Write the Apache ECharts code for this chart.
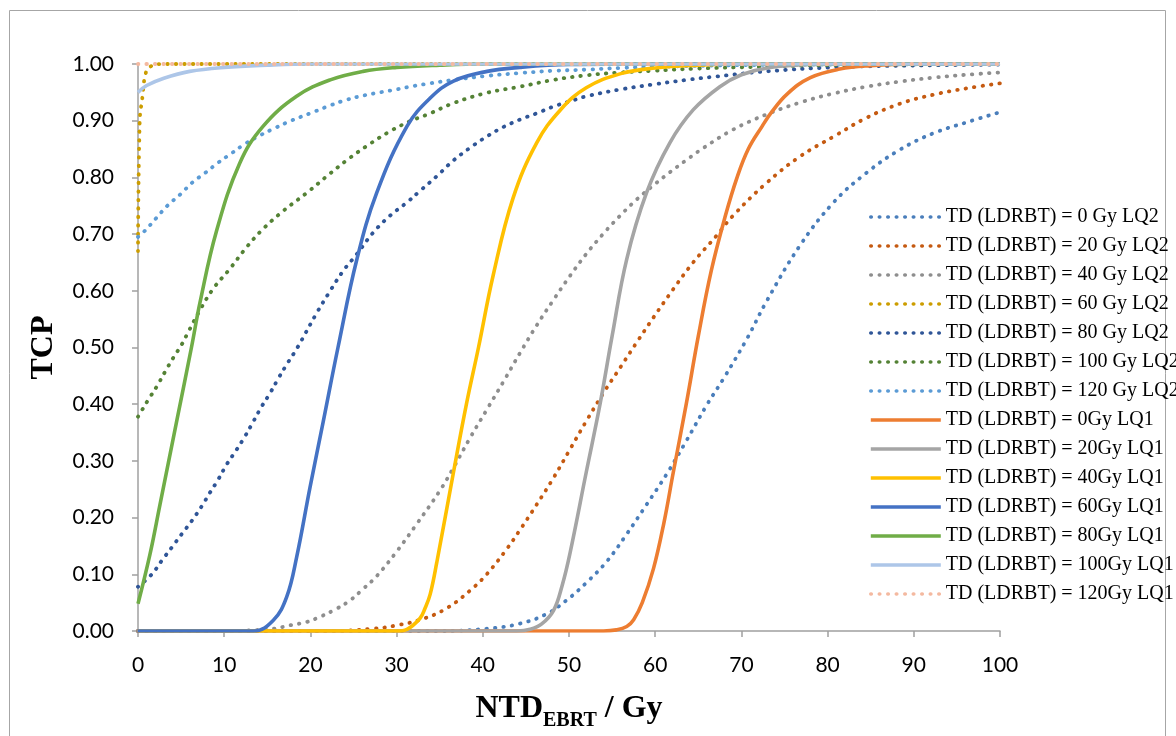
<!DOCTYPE html>
<html>
<head>
<meta charset="utf-8">
<script src="https://cdn.jsdelivr.net/npm/echarts@6/dist/echarts.min.js"></script>
<style>
  html, body { margin: 0; padding: 0; background: #fff; }
  #main { width: 1176px; height: 736px; }
</style>
</head>
<body>
<div id="main"></div>
<script>
// x ticks and y ticks
const xTicks = [0, 10, 20, 30, 40, 50, 60, 70, 80, 90, 100];
const yTicks = [0, 0.1, 0.2, 0.3, 0.4, 0.5, 0.6, 0.7, 0.8, 0.9, 1.0];

// LQ2 curves (dotted), [NTD_EBRT, TCP]
const lq2_0 = [[0,0],[35,0],[40.5,0.004],[44.3,0.013],[47.4,0.030],[49.7,0.054],[52,0.085],[54.4,0.123],[56.7,0.171],[59,0.223],[61.3,0.276],[63.6,0.335],[66,0.399],[68,0.447],[70.7,0.517],[72.9,0.581],[76.8,0.68],[80.7,0.756],[84.5,0.808],[88.4,0.849],[92.3,0.878],[96.1,0.897],[100,0.915]];
const lq2_20 = [[0,0],[22,0],[27.3,0.004],[30,0.010],[33,0.021],[35.8,0.040],[38.5,0.071],[40.45,0.10],[42.8,0.145],[44.3,0.178],[46.25,0.223],[48.2,0.27],[50.1,0.32],[52,0.37],[54,0.42],[56,0.466],[57.9,0.51],[59.8,0.553],[62.1,0.603],[64.4,0.65],[67.1,0.697],[69,0.732],[72.9,0.79],[76.8,0.837],[80.7,0.872],[84.5,0.905],[88.4,0.93],[92.3,0.946],[96.1,0.957],[100,0.966]];
const lq2_40 = [[0,0],[10,0],[15.7,0.004],[17.6,0.01],[19.6,0.016],[21.1,0.025],[23,0.039],[24.6,0.054],[26.1,0.074],[27.7,0.097],[30,0.14],[32.3,0.188],[35,0.247],[36.6,0.288],[38.5,0.34],[40.45,0.39],[42.4,0.44],[44.3,0.49],[46.25,0.539],[48.2,0.584],[50.1,0.626],[52,0.665],[54,0.701],[55.9,0.732],[57.85,0.761],[59.8,0.786],[61.7,0.809],[63.65,0.831],[65.6,0.852],[69,0.884],[72.9,0.911],[76.8,0.932],[80.7,0.948],[84.5,0.96],[88.4,0.969],[92.3,0.976],[96.1,0.981],[100,0.985]];
const lq2_60 = [[0,0.67],[0.2,0.9],[0.5,0.94],[0.9,0.984],[1.5,0.996],[3,1],[100,1]];
const lq2_80 = [[0,0.078],[1.6,0.10],[2.75,0.124],[3.9,0.147],[5.07,0.171],[6.23,0.194],[7.39,0.22],[8.35,0.244],[9.3,0.267],[10.3,0.294],[11.45,0.32],[12.4,0.343],[13.4,0.37],[14.35,0.396],[15.3,0.419],[16.3,0.446],[17.25,0.47],[18.5,0.50],[20.7,0.56],[22.3,0.60],[23.8,0.635],[25.4,0.665],[27.3,0.703],[29.2,0.732],[31.2,0.756],[32.7,0.776],[34.65,0.802],[36.6,0.83],[38.5,0.852],[40.45,0.872],[42.4,0.889],[44.3,0.902],[46.25,0.913],[48.2,0.925],[50.1,0.934],[52,0.943],[55.9,0.955],[59.8,0.964],[63.65,0.972],[67.1,0.978],[72.9,0.987],[80.7,0.994],[88.4,0.997],[100,0.999]];
const lq2_100 = [[0,0.378],[0.6,0.393],[1.2,0.408],[2.17,0.431],[3.13,0.457],[4.1,0.482],[5.14,0.507],[5.65,0.522],[7.19,0.566],[8.74,0.604],[10.67,0.639],[12.6,0.677],[14.5,0.709],[16.86,0.741],[19.6,0.773],[21.9,0.802],[24.2,0.83],[26.5,0.855],[29.2,0.881],[31.55,0.899],[33.9,0.913],[36.6,0.931],[40.45,0.949],[44.3,0.96],[48.2,0.972],[52,0.98],[55.9,0.985],[59.8,0.988],[65,0.992],[72,0.995],[80,0.998],[90,0.999],[100,1]];
const lq2_120 = [[0,0.695],[0.8,0.706],[2.1,0.728],[3.4,0.75],[4.9,0.77],[6.3,0.791],[7.8,0.808],[9.3,0.826],[10.9,0.843],[12.4,0.859],[14.15,0.874],[15.9,0.887],[17.6,0.899],[20.3,0.915],[22.3,0.927],[24,0.936],[25.75,0.943],[27.7,0.949],[29.6,0.954],[31.55,0.96],[33.5,0.965],[36.6,0.972],[40.45,0.979],[44.3,0.984],[48.2,0.988],[52,0.99],[56,0.993],[60,0.995],[70,0.998],[80,0.999],[100,1]];

// LQ1 curves (solid)
const lq1_0 = [[0,0],[54,0],[55.5,0.002],[56.7,0.008],[57.5,0.02],[58.5,0.05],[59.8,0.11],[61,0.19],[62.1,0.28],[63.6,0.40],[65,0.52],[66.5,0.635],[68.1,0.73],[69.5,0.80],[70.8,0.85],[72.4,0.89],[73.5,0.915],[75.3,0.947],[78,0.976],[81.4,0.991],[85,0.997],[90,1],[100,1]];
const lq1_20 = [[0,0],[44,0],[45.5,0.003],[46.8,0.012],[48.2,0.036],[49.2,0.08],[50.1,0.136],[52,0.28],[53.6,0.40],[55,0.52],[56.7,0.656],[59,0.773],[61.7,0.861],[64.4,0.919],[67.5,0.96],[70,0.981],[73,0.993],[78,0.999],[85,1],[100,1]];
const lq1_40 = [[0,0],[30,0],[31.2,0.003],[32.7,0.022],[33.3,0.04],[33.9,0.065],[34.65,0.12],[36.6,0.28],[38.1,0.40],[39.5,0.50],[41.2,0.627],[43.5,0.763],[46.25,0.861],[49,0.919],[52,0.958],[56,0.983],[60,0.993],[65,0.998],[70,1],[100,1]];
const lq1_60 = [[0,0],[13.4,0],[15.7,0.019],[17.25,0.06],[18.4,0.13],[19.95,0.253],[21.5,0.37],[23.2,0.50],[25.4,0.656],[27.7,0.773],[31.2,0.89],[33.9,0.94],[36.6,0.97],[40.5,0.987],[44.3,0.994],[50,0.999],[60,1],[100,1]];
const lq1_80 = [[0,0.048],[1.4,0.136],[2.55,0.223],[4.49,0.37],[6.2,0.50],[7.2,0.58],[9.1,0.705],[11.8,0.825],[14.5,0.89],[18.4,0.943],[22.3,0.972],[26.1,0.987],[30,0.994],[35,0.998],[40,1],[100,1]];
const lq1_100 = [[0,0.95],[1,0.962],[3,0.975],[6,0.987],[10,0.994],[15,0.998],[20,1],[100,1]];
const lq1_120 = [[0,1],[100,1]];

const dotted = (color) => ({ color: color, width: 3.8, type: [0.5, 8], cap: 'round' });
const solid = (color) => ({ color: color, width: 3.6 });

const seriesDefs = [
  ['TD (LDRBT) = 0 Gy LQ2', lq2_0, dotted('#4A7EBB')],
  ['TD (LDRBT) = 20 Gy LQ2', lq2_20, dotted('#C55A11')],
  ['TD (LDRBT) = 40 Gy LQ2', lq2_40, dotted('#8E8E8E')],
  ['TD (LDRBT) = 60 Gy LQ2', lq2_60, dotted('#CC9D00')],
  ['TD (LDRBT) = 80 Gy LQ2', lq2_80, dotted('#2F5597')],
  ['TD (LDRBT) = 100 Gy LQ2', lq2_100, dotted('#548235')],
  ['TD (LDRBT) = 120 Gy LQ2', lq2_120, dotted('#5B9BD5')],
  ['TD (LDRBT) = 0Gy LQ1', lq1_0, solid('#ED7D31')],
  ['TD (LDRBT) = 20Gy LQ1', lq1_20, solid('#A5A5A5')],
  ['TD (LDRBT) = 40Gy LQ1', lq1_40, solid('#FFC000')],
  ['TD (LDRBT) = 60Gy LQ1', lq1_60, solid('#4472C4')],
  ['TD (LDRBT) = 80Gy LQ1', lq1_80, solid('#70AD47')],
  ['TD (LDRBT) = 100Gy LQ1', lq1_100, solid('#ADC6E8')],
  ['TD (LDRBT) = 120Gy LQ1', lq1_120, dotted('#F4B9A0')]
];

const chart = echarts.init(document.getElementById('main'));

chart.setOption({
  animation: false,
  graphic: [{
    type: 'rect',
    shape: { x: 9.5, y: 10.5, width: 1156, height: 740 },
    style: { fill: 'none', stroke: '#A6A6A6', lineWidth: 1 },
    z: -1
  }],
  grid: { left: 138, right: 176, top: 64, bottom: 102 },
  legend: {
    orient: 'vertical',
    left: 864,
    top: 202,
    itemWidth: 70,
    itemHeight: 14,
    itemGap: 9,
    itemStyle: { opacity: 0 },
    lineStyle: { width: 3.6 },
    textStyle: { fontFamily: 'Liberation Serif', fontSize: 20, color: '#000', lineHeight: 20 },
    data: seriesDefs.map(d => d[0])
  },
  xAxis: {
    type: 'value',
    min: xTicks[0],
    max: xTicks[xTicks.length - 1],
    interval: 10,
    name: '{a|NTD}{b|EBRT}{a| / Gy}',
    nameLocation: 'middle',
    nameGap: 56,
    nameTextStyle: {
      rich: {
        a: { fontFamily: 'Liberation Serif', fontWeight: 'bold', fontSize: 32, lineHeight: 44, color: '#000' },
        b: { fontFamily: 'Liberation Serif', fontWeight: 'bold', fontSize: 20, lineHeight: 20, verticalAlign: 'bottom', color: '#000' }
      }
    },
    axisLine: { lineStyle: { color: '#A0A0A0', width: 1.5 } },
    axisTick: { length: 6, lineStyle: { color: '#A0A0A0', width: 1.5 } },
    axisLabel: { margin: 24, fontFamily: 'Lato', fontSize: 21, color: '#000' },
    splitLine: { show: false }
  },
  yAxis: {
    type: 'value',
    min: yTicks[0],
    max: yTicks[yTicks.length - 1],
    interval: 0.1,
    name: 'TCP',
    nameLocation: 'middle',
    nameGap: 78,
    nameTextStyle: { fontFamily: 'Liberation Serif', fontWeight: 'bold', fontSize: 32, color: '#000' },
    axisLine: { show: true, lineStyle: { color: '#A0A0A0', width: 1.5 } },
    axisTick: { show: true, length: 6, lineStyle: { color: '#A0A0A0', width: 1.5 } },
    axisLabel: { margin: 24, fontFamily: 'Lato', fontSize: 21, color: '#000', formatter: v => v.toFixed(2) },
    splitLine: { show: false }
  },
  series: seriesDefs.map(d => ({
    name: d[0],
    type: 'line',
    data: d[1],
    smooth: 0.4,
    symbol: 'none',
    lineStyle: d[2],
    itemStyle: { color: d[2].color }
  }))
});
</script>
</body>
</html>
